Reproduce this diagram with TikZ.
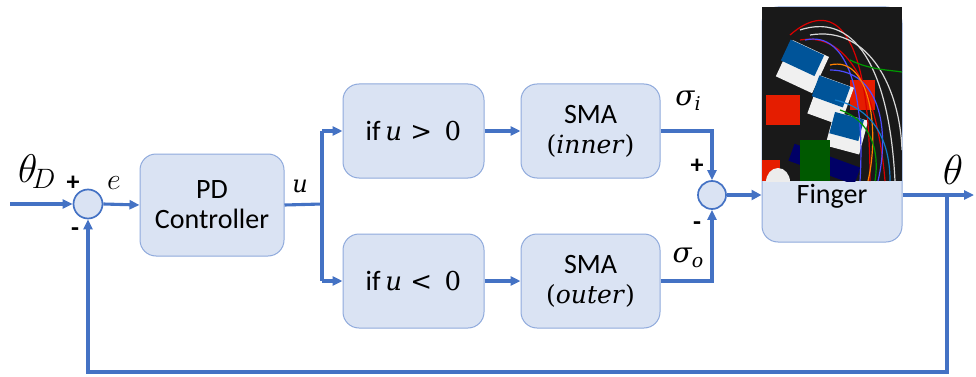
\RequirePackage{fix-cm}
\documentclass[tikz,border=0pt]{standalone}
\usepackage{fontspec}
\setsansfont{Carlito}
\newfontfamily\cmb{DejaVu Serif}
\usetikzlibrary{arrows.meta,calc}
\definecolor{lineblue}{HTML}{4472C4}
\definecolor{boxfill}{HTML}{DAE3F3}
\definecolor{boxborder}{HTML}{8FAADC}
\tikzset{
  blk/.style={draw=boxborder,line width=1pt,fill=boxfill,rounded corners=16pt,
    font=\sffamily\fontsize{28}{32}\selectfont,align=center,inner sep=0pt},
  sumc/.style={circle,draw=lineblue,line width=1.7pt,fill=boxfill,minimum size=29pt,inner sep=0pt},
  wire/.style={draw=lineblue,line width=3.1pt},
  arr/.style={wire,-{Triangle[length=10pt,width=9pt]}},
  sgn/.style={font=\sffamily\bfseries\fontsize{26}{26}\selectfont,inner sep=0pt},
  lbl/.style={font=\fontsize{27}{27}\selectfont,inner sep=0pt},
}
\begin{document}
\begin{tikzpicture}[x=1pt,y=-1pt]
\useasboundingbox (0,0) rectangle (976,377);
% nodes
\coordinate (in) at (10,204);
\node[sumc] (s1) at (88,204) {};
\node[blk,minimum width=144pt,minimum height=102pt] (pd) at (212,205) {PD\\[-2pt]Controller};
\coordinate (br) at (322,204);
\node[blk,minimum width=141pt,minimum height=94pt] (ifp) at (413.5,131) {if\,{\cmb\fontsize{26}{30}\selectfont\itshape u\upshape\ >\ \,0}};
\node[blk,minimum width=141pt,minimum height=94pt] (ifn) at (413.5,281) {if\,{\cmb\fontsize{26}{30}\selectfont\itshape u\upshape\ <\ \,0}};
\node[blk,minimum width=139pt,minimum height=94pt] (smai) at (590.5,131) {SMA\\[-2pt]{\cmb\fontsize{25}{30}\selectfont(\textit{inner})}};
\node[blk,minimum width=139pt,minimum height=94pt] (smao) at (590.5,281) {SMA\\[-2pt]{\cmb\fontsize{25}{30}\selectfont(\textit{outer})}};
\node[sumc,minimum size=28pt] (s2) at (712,195) {};
\node[blk,minimum width=140pt,minimum height=235pt] (fg) at (832,124.5) {};
% photo
\begin{scope}
\clip (762,7) rectangle (902,181);
\fill[black!90] (762,7) rectangle (902,181);
\fill[red!75!orange!90!black] (766,95) rectangle (800,125);
\fill[red!75!orange!90!black] (850,80) rectangle (875,110);
\fill[red!75!orange!90!black] (762,160) rectangle (780,181);
\fill[white!85!gray] (778,182) ellipse (12pt and 14pt);
\fill[white!88!gray,rotate around={-25:(800,60)}] (785,45) rectangle (825,85);
\fill[white!88!gray,rotate around={-20:(830,95)}] (815,80) rectangle (850,120);
\fill[white!88!gray,rotate around={-15:(845,130)}] (830,115) rectangle (865,150);
\fill[blue!45!cyan!60!black,rotate around={-25:(800,55)}] (785,45) rectangle (822,68);
\fill[blue!45!cyan!60!black,rotate around={-20:(830,90)}] (815,80) rectangle (848,102);
\fill[blue!45!cyan!60!black,rotate around={-15:(845,125)}] (832,115) rectangle (862,137);
\fill[blue!40!black,rotate around={-20:(810,160)}] (790,150) rectangle (860,168);
\fill[green!35!black] (800,140) rectangle (830,181);
\draw[red!85!black,line width=1.2pt] (790,35) .. controls (830,0) and (870,20) .. (870,181);
\draw[red!85!black,line width=1.2pt] (800,40) .. controls (860,30) and (880,120) .. (885,181);
\draw[gray!30,line width=1.2pt] (800,30) .. controls (860,10) and (890,80) .. (895,181);
\draw[gray!30,line width=1.2pt] (810,35) .. controls (870,25) and (900,90) .. (902,150);
\draw[blue!70,line width=1.2pt] (805,40) .. controls (850,30) and (865,100) .. (860,181);
\draw[blue!70,line width=1.2pt] (830,70) .. controls (880,70) and (890,130) .. (878,181);
\draw[orange,line width=1.2pt] (830,65) .. controls (870,55) and (880,130) .. (868,181);
\draw[green!60!black,line width=1.2pt] (850,60) .. controls (870,70) and (890,70) .. (902,72);
\draw[green!60!black,line width=1.2pt] (840,110) .. controls (870,120) and (880,150) .. (875,181);
\draw[cyan!60!blue,line width=1.2pt] (835,100) .. controls (880,110) and (890,150) .. (890,181);
\end{scope}
\node[font=\sffamily\fontsize{28}{32}\selectfont,inner sep=0pt] (fgt) at (832,196) {Finger};
% connectors
\draw[arr] (in) -- (s1.west);
\draw[arr] (s1.east) -- (pd.west);
\draw[wire] (pd.east) -- (br);
\draw[wire] (br |- ifp.west) -- (br |- ifn.west);
\draw[arr] (br |- ifp.west) -- (ifp.west);
\draw[arr] (br |- ifn.west) -- (ifn.west);
\draw[arr] (ifp.east) -- (smai.west);
\draw[arr] (ifn.east) -- (smao.west);
\draw[arr] (smai.east) -| (s2.north);
\draw[arr] (smao.east) -| (s2.south);
\draw[wire,line width=4pt,-{Triangle[length=10pt,width=10pt]}] (s2.east) -- (s2.east -| fg.west);
\coordinate (out) at (974,195);
\coordinate (ob) at (947,195);
\coordinate (fb) at (947,372);
\coordinate (fbl) at (88,372);
\draw[arr] (fg.east |- out) -- (out);
\draw[arr] (ob) -- (fb) -- (fbl) -- (s1.south);
% labels
\node[font=\fontsize{40}{40}\selectfont,inner sep=0pt] (lthd) at (37,172) {$\theta_{\!D}$};
\node[sgn] (p1) at (73,183) {+};
\node[sgn] (m1) at (75,232) {-};
\node[lbl,font=\fontsize{30}{30}\selectfont] (le) at (114,183) {$e$};
\node[lbl,font=\cmb\itshape\fontsize{24}{24}\selectfont] (lu) at (300,186) {u};
\node[lbl,font=\cmb\itshape\fontsize{28}{28}\selectfont] (lsi) at (688,101) {σ\raisebox{-5pt}{\fontsize{19}{19}\selectfont i}};
\node[sgn] (p2) at (697,166) {+};
\node[sgn] (m2) at (697,226) {-};
\node[lbl,font=\cmb\itshape\fontsize{28}{28}\selectfont] (lso) at (688,258) {σ\raisebox{-5pt}{\fontsize{19}{19}\selectfont o}};
\node[font=\fontsize{42}{42}\selectfont,inner sep=0pt] (lth) at (953,170) {$\theta$};
\end{tikzpicture}
\end{document}
